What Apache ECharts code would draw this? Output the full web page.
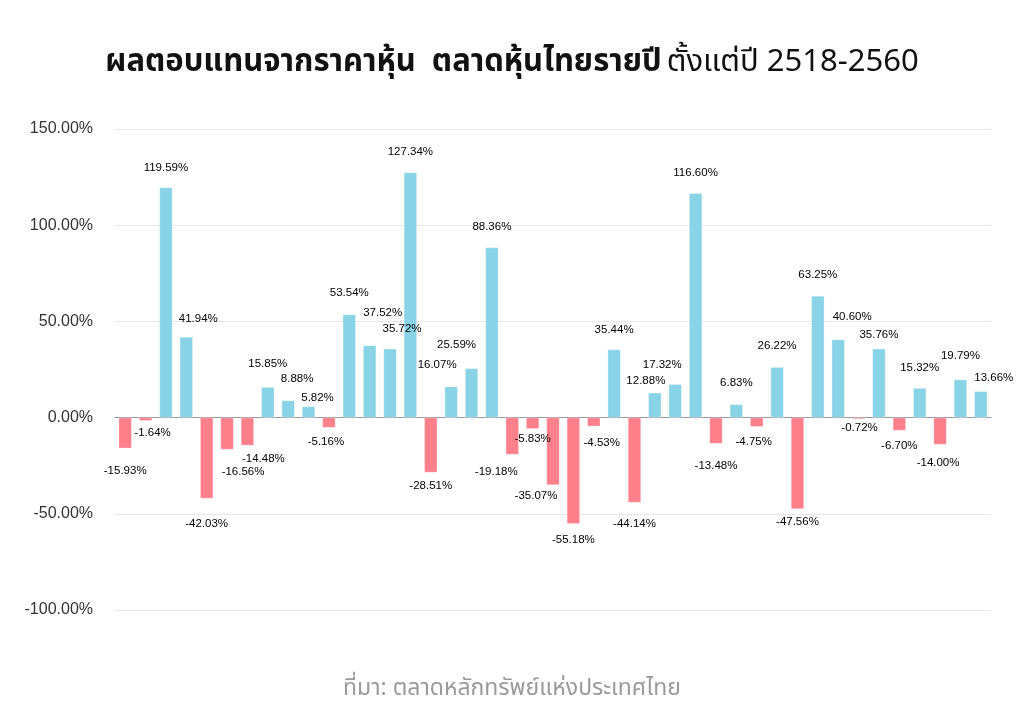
<!DOCTYPE html>
<html>
<head>
<meta charset="utf-8">
<script src="https://cdn.jsdelivr.net/npm/echarts@6/dist/echarts.min.js"></script>
<style>
  html, body { margin: 0; padding: 0; background: #fff; }
  #chart { width: 1024px; height: 726px; }
</style>
</head>
<body>
<div id="chart"></div>
<script>
// ปี พ.ศ. 2518 - 2560
var years = [];
for (var y = 2518; y <= 2560; y++) years.push(String(y));

// ผลตอบแทนรายปี (%)
var returns = [
  -15.93, -1.64, 119.59, 41.94, -42.03, -16.56, -14.48, 15.85, 8.88, 5.82,
  -5.16, 53.54, 37.52, 35.72, 127.34, -28.51, 16.07, 25.59, 88.36, -19.18,
  -5.83, -35.07, -55.18, -4.53, 35.44, -44.14, 12.88, 17.32, 116.60, -13.48,
  6.83, -4.75, 26.22, -47.56, 63.25, 40.60, -0.72, 35.76, -6.70, 15.32,
  -14.00, 19.79, 13.66
];

var yTicks = [-100, -50, 0, 50, 100, 150];

// label nudges [dx, dy] so labels sit like the original (avoid overlaps)
var labelNudge = [
  [0, 3], [7, -8], [0, 0], [12, 2], [0, 5], [16, 2], [16, -7], [0, -3], [9, -2], [9, 11],
  [-3, -6], [0, -2], [13, -13], [12, 0], [0, -1], [0, -7], [-14, -2], [-15, -4], [0, -1], [-16, -3],
  [0, -10], [-17, -9], [0, -4], [8, -3], [0, 0], [0, 1], [-9, 8], [-13, 1], [0, 0], [0, 2],
  [0, -2], [-3, -5], [0, -1], [0, -7], [0, -1], [14, -3], [1, -11], [0, 6], [0, -5], [0, 0],
  [-2, -2], [0, -4], [13, 7]
];

var thaiFont = '"Noto Sans Thai", "Noto Sans", "DejaVu Sans", sans-serif';
var latinFont = '"Liberation Sans", Arial, Helvetica, sans-serif';

var chart = echarts.init(document.getElementById('chart'));

chart.setOption({
  backgroundColor: '#fff',
  animation: false,
  title: [{
    text: '{b|ผลตอบแทนจากราคาหุ้น  ตลาดหุ้นไทยรายปี} {n|ตั้งแต่ปี 2518-2560}',
    left: 'center',
    top: 44,
    textStyle: {
      rich: {
        b: { fontFamily: thaiFont, fontSize: 31, fontWeight: 'bold', color: '#111' },
        n: { fontFamily: thaiFont, fontSize: 31, fontWeight: 'normal', color: '#111' }
      }
    }
  }, {
    text: 'ที่มา: ตลาดหลักทรัพย์แห่งประเทศไทย',
    left: 'center',
    top: 674,
    textStyle: { fontFamily: thaiFont, fontSize: 23, fontWeight: 'normal', color: '#9a9a9a' }
  }],
  grid: { left: 115, right: 33, top: 129, bottom: 116 },
  xAxis: {
    type: 'category',
    data: years,
    axisLine: { onZero: true, lineStyle: { color: '#999', width: 1 } },
    axisTick: { show: false },
    axisLabel: { show: false }
  },
  yAxis: {
    type: 'value',
    min: yTicks[0],
    max: yTicks[yTicks.length - 1],
    interval: 50,
    axisLine: { show: false },
    axisTick: { show: false },
    splitLine: { lineStyle: { color: '#e6e6e6', width: 1 } },
    axisLabel: {
      margin: 22,
      fontFamily: latinFont,
      fontSize: 16,
      color: '#333',
      formatter: function (v) { return v.toFixed(2) + '%'; }
    }
  },
  series: [{
    type: 'bar',
    barWidth: 13,
    data: returns.map(function (v, i) {
      return {
        value: v,
        itemStyle: { color: v >= 0 ? '#88D3E6' : '#FF7F8B' },
        label: { position: v >= 0 ? 'top' : 'bottom', offset: labelNudge[i] }
      };
    }),
    itemStyle: { borderColor: 'rgba(255,255,255,0.6)', borderWidth: 0.5 },
    label: {
      show: true,
      distance: 14,
      fontFamily: latinFont,
      fontSize: 11.5,
      color: '#000',
      formatter: function (p) { return p.value.toFixed(2) + '%'; }
    }
  }]
});
</script>
</body>
</html>
